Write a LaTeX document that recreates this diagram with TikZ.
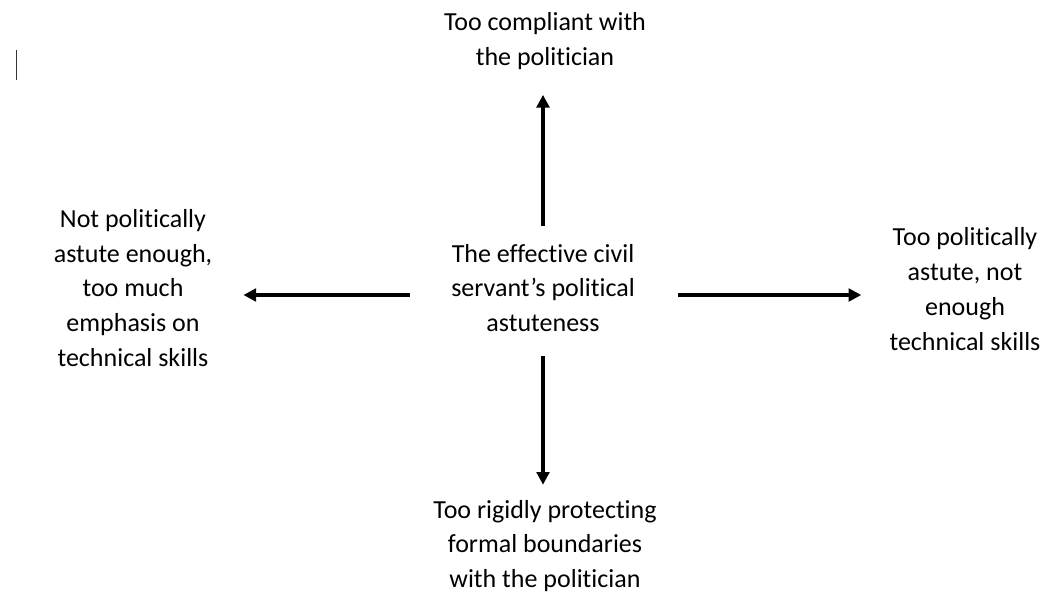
\documentclass[tikz,border=0pt]{standalone}
\usepackage{fontspec}
\setmainfont{Carlito}[Ligatures=NoCommon]
\usepackage{tikz}
\usetikzlibrary{arrows.meta,positioning}

\begin{document}
\begin{tikzpicture}[
  x=0.025cm, y=-0.025cm,
  lbl/.style={inner sep=0pt, align=center,
              font=\fontsize{18.5}{24.8}\selectfont},
  arr/.style={-{Triangle[length=9pt,width=9pt]}, line width=2.2pt}
]
\useasboundingbox (0,0) rectangle (1046,597);

%─── Cursor mark ───────────────────────────────────────────────────────────
\draw[line width=0.6pt, black!80] (16,50) -- (16,80);

%─── Centre and the four directions ────────────────────────────────────────
\node[lbl] (ctr) at (543,288)
  {The effective civil\\servant’s political\\astuteness};

\node[lbl] (up) at (545,41) {Too compliant with\\the politician};
\node[lbl] (down) at (545,546)
  {Too rigidly protecting\\formal boundaries\\with the politician};
\node[lbl] (lft) at (133,288)
  {Not politically\\astute enough,\\too much\\emphasis on\\technical skills};
\node[lbl] (rgt) at (965,289)
  {Too politically\\astute, not\\enough\\technical skills};

% arrows out of the centre
\draw[arr, shorten <=0.45cm, shorten >=0.625cm]
  (ctr.north) -- (ctr.north |- up.south);
\draw[arr, shorten <=0.6cm, shorten >=0.375cm]
  (ctr.south) -- (ctr.south |- down.north);
\draw[arr, shorten <=1.025cm, shorten >=0.775cm]
  ([yshift=-0.175cm]ctr.west) -- ([yshift=-0.175cm]ctr.west -| lft.east);
\draw[arr, shorten <=1.075cm, shorten >=0.7cm]
  ([yshift=-0.175cm]ctr.east) -- ([yshift=-0.175cm]ctr.east -| rgt.west);
\end{tikzpicture}
\end{document}
